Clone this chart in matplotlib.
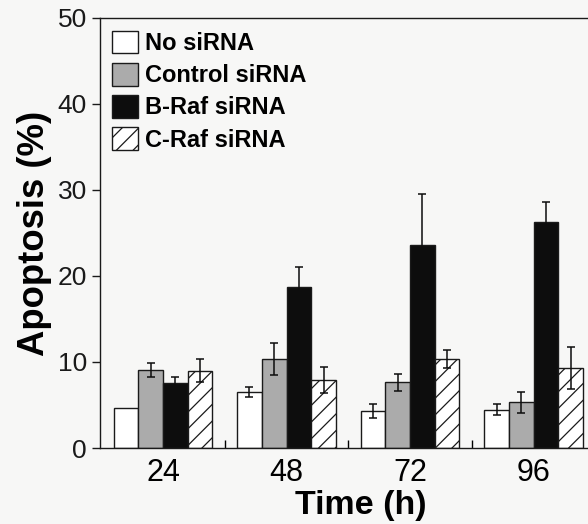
import numpy as np
import matplotlib.pyplot as plt
from matplotlib.ticker import FixedLocator

plt.rcParams['font.family'] = ['Liberation Sans', 'DejaVu Sans']
plt.rcParams['hatch.linewidth'] = 0.9

times = ['24', '48', '72', '96']
labels = ['No siRNA', 'Control siRNA', 'B-Raf siRNA', 'C-Raf siRNA']

no_sirna = [4.7, 6.5, 4.3, 4.45]
no_sirna_err = [0.0, 0.6, 0.8, 0.65]
control = [9.05, 10.35, 7.65, 5.3]
control_err = [0.85, 1.9, 1.0, 1.2]
braf = [7.5, 18.75, 23.6, 26.3]
braf_err = [0.8, 2.3, 5.9, 2.3]
craf = [9.0, 7.9, 10.35, 9.3]
craf_err = [1.35, 1.5, 1.0, 2.4]

values = [no_sirna, control, braf, craf]
errors = [no_sirna_err, control_err, braf_err, craf_err]
faces = ['white', '#ababab', '#0d0d0d', 'white']
hatches = [None, None, None, '//']

fig = plt.figure(figsize=(5.88, 5.24), dpi=100)
fig.patch.set_facecolor('#f7f7f6')
ax = fig.add_axes([0.170, 0.145, 0.832, 0.821])
ax.set_facecolor('#f7f7f6')

x = np.arange(len(times))
w = 0.2
for i in range(4):
    xs = x + (i - 1.5) * w
    ax.bar(xs, values[i], w, color=faces[i], edgecolor='#1a1a1a',
           linewidth=1.0, hatch=hatches[i], label=labels[i], zorder=2)
    err = np.array(errors[i])
    m = err > 0
    # lower half drawn too; on the black bars it disappears into the fill
    ax.errorbar(xs[m], np.array(values[i])[m], yerr=err[m], fmt='none',
                ecolor='#0d0d0d', elinewidth=1.1, capsize=3, capthick=1.1,
                zorder=3)

ax.set_xlim(-0.51, 3.45)
ax.set_ylim(0, 50)
ax.set_yticks([0, 10, 20, 30, 40, 50])
ax.set_xticks(x)
ax.set_xticklabels(times)
ax.xaxis.set_minor_locator(FixedLocator([0.5, 1.5, 2.5]))
ax.tick_params(axis='x', which='major', length=0, pad=7, labelsize=22)
ax.tick_params(axis='x', which='minor', direction='in', length=6, width=1.0)
ax.tick_params(axis='y', which='major', direction='out', length=6, width=1.0,
               pad=3.5, labelsize=19, colors='#1a1a1a')
ax.spines['right'].set_visible(False)
for s in ['left', 'bottom', 'top']:
    ax.spines[s].set_linewidth(1.0)
    ax.spines[s].set_color('#1a1a1a')

ax.set_xlabel('Time (h)', fontsize=24.5, fontweight='bold')
ax.xaxis.set_label_coords(0.534, -0.098)
ax.set_ylabel('Apoptosis (%)', fontsize=26.3, fontweight='bold', labelpad=4)

ax.legend(loc='upper left', bbox_to_anchor=(0.025, 0.97), frameon=False,
          prop=dict(size=17, weight='bold'), handlelength=1.1, handleheight=1.1,
          handletextpad=0.28, labelspacing=0.33, borderpad=0, borderaxespad=0)

fig.savefig('out.png', dpi=100, facecolor=fig.get_facecolor())
